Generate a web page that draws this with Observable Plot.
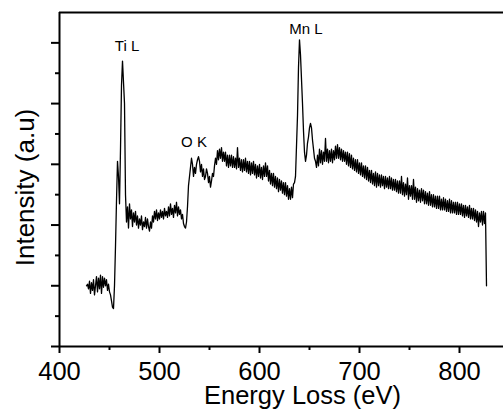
<!DOCTYPE html>
<html>
<head>
<meta charset="utf-8">
<script src="https://cdn.jsdelivr.net/npm/d3@7"></script>
<script src="https://cdn.jsdelivr.net/npm/@observablehq/plot@0.6"></script>
<style>
  html, body { margin: 0; padding: 0; background: #fff; overflow: hidden; }
  #chart { width: 503px; height: 412px; }
</style>
</head>
<body>
<div id="chart"></div>
<script>
// Energy grid (eV) of the spectrum: 1 eV steps starting at 427
const energyStart = 427;
// Intensity (a.u.), one value per eV (427 ... 827)
const intensity = [
  2.0, 2.05, 1.9, 2.15, 1.75, 2.1, 1.85, 2.2, 1.7, 2.0,
  2.3, 1.8, 2.25, 1.9, 2.35, 1.75, 2.3, 1.95, 2.25, 2.0,
  2.2, 1.85, 2.05, 1.8, 1.7, 1.5, 1.3, 1.25, 2.0, 3.3,
  4.8, 6.1, 5.6, 4.7, 6.5, 8.6, 9.4, 8.7, 8.0, 5.0,
  4.1, 4.6, 3.9, 4.7, 4.2, 4.5, 3.95, 4.4, 4.1, 4.45,
  4.0, 4.3, 3.9, 4.2, 4.0, 4.3, 3.85, 4.1, 3.95, 4.25,
  3.9, 4.2, 3.95, 3.8, 4.1, 3.9, 4.3, 4.1, 4.45, 4.2,
  4.5, 4.15, 4.4, 4.2, 4.5, 4.25, 4.45, 4.2, 4.55, 4.3,
  4.45, 4.25, 4.6, 4.3, 4.7, 4.35, 4.55, 4.25, 4.65, 4.4,
  4.75, 4.3, 4.6, 4.35, 4.5, 4.2, 4.35, 4.05, 3.95, 3.9,
  4.1, 4.6, 5.3, 5.6, 5.9, 6.2, 6.0, 5.6, 5.9, 5.7,
  6.0, 6.15, 6.25, 6.1, 5.75, 6.0, 5.6, 5.85, 5.5, 5.6,
  5.85, 5.7, 5.4, 5.6, 5.25, 5.45, 5.7, 5.6, 5.95, 6.2,
  6.0, 6.45, 6.15, 6.5, 6.2, 6.55, 6.1, 6.4, 6.1, 6.4,
  5.95, 6.3, 5.9, 6.3, 5.95, 6.3, 5.9, 6.25, 5.9, 6.2,
  5.85, 6.55, 5.9, 6.2, 5.8, 6.15, 5.75, 6.15, 5.8, 6.2,
  5.75, 6.1, 5.7, 6.1, 5.65, 6.05, 5.7, 6.1, 5.65, 6.0,
  5.55, 5.95, 5.6, 6.0, 5.55, 5.9, 5.5, 5.95, 5.6, 6.05,
  5.6, 5.95, 5.45, 5.8, 5.35, 5.7, 5.3, 5.7, 5.25, 5.6,
  5.2, 5.55, 5.1, 5.5, 5.15, 5.45, 5.05, 5.4, 5.0, 5.4,
  4.95, 5.3, 4.85, 5.2, 4.85, 5.25, 4.9, 5.35, 5.4, 5.6,
  6.6, 7.6, 9.2, 10.1, 9.6, 8.8, 8.0, 7.1, 6.4, 6.1,
  6.3, 6.7, 6.9, 7.2, 7.35, 7.2, 6.8, 6.5, 6.2, 6.1,
  5.9, 6.3, 5.95, 6.5, 6.05, 6.45, 6.0, 6.4, 6.1, 6.85,
  6.1, 6.5, 6.05, 6.45, 6.1, 6.5, 6.05, 6.45, 6.15, 6.6,
  6.2, 6.65, 6.2, 6.55, 6.15, 6.5, 6.1, 6.45, 6.1, 6.4,
  6.0, 6.4, 5.95, 6.35, 5.9, 6.3, 5.85, 6.2, 5.8, 6.15,
  5.75, 6.15, 5.7, 6.05, 5.65, 6.05, 5.6, 5.95, 5.55, 5.95,
  5.5, 5.9, 5.45, 5.8, 5.4, 5.8, 5.35, 5.7, 5.3, 5.75,
  5.25, 5.7, 5.3, 5.65, 5.25, 5.65, 5.3, 5.6, 5.2, 5.6,
  5.25, 5.55, 5.2, 5.6, 5.2, 5.55, 5.15, 5.5, 5.15, 5.5,
  5.1, 5.45, 5.05, 5.45, 5.05, 5.6, 5.0, 5.4, 4.95, 5.35,
  5.0, 5.55, 4.85, 5.3, 4.95, 5.3, 4.85, 5.5, 4.85, 5.25,
  4.75, 5.2, 4.8, 5.15, 4.75, 5.2, 4.8, 5.15, 4.7, 5.1,
  4.7, 5.05, 4.65, 5.1, 4.65, 5.0, 4.6, 5.0, 4.6, 4.95,
  4.55, 4.95, 4.55, 4.95, 4.5, 4.85, 4.5, 4.9, 4.5, 4.85,
  4.45, 4.8, 4.45, 4.85, 4.4, 4.8, 4.4, 4.75, 4.4, 4.75,
  4.35, 4.75, 4.35, 4.7, 4.35, 4.7, 4.3, 4.65, 4.25, 4.65,
  4.3, 4.6, 4.25, 4.65, 4.2, 4.55, 4.2, 4.55, 4.15, 4.5,
  4.1, 4.45, 3.95, 4.4, 4.1, 4.45, 4.0, 4.45, 4.05, 4.4,
  2.0
];
// Edge annotations
const edgeLabels = ["Ti L", "O K", "Mn L"];
const edgeEnergy = [467.5, 534.5, 646.5];
const edgeIntensity = [9.9, 6.72, 10.44];
// Axis ticks
const xMajorTicks = [400, 500, 600, 700, 800];
const xMinorTicks = [450, 550, 650, 750];
const yMajorTicks = [0, 2, 4, 6, 8, 10];
const yMinorTicks = [1, 3, 5, 7, 9];
const xLabel = "Energy Loss (eV)";
const yLabel = "Intensity (a.u)";

const spectrum = intensity.map((v, i) => ({energy: energyStart + i, value: v}));
const edges = edgeLabels.map((t, i) => ({label: t, energy: edgeEnergy[i], value: edgeIntensity[i]}));

const FONT = "'Liberation Sans', Arial, Helvetica, sans-serif";

const chart = Plot.plot({
  width: 503,
  height: 412,
  marginLeft: 59,
  marginRight: 0,
  marginTop: 12,
  marginBottom: 66,
  style: {fontFamily: FONT, color: "#000", background: "#fff", overflow: "hidden"},
  x: {domain: [400, 844]},
  y: {domain: [0, 11]},
  marks: [
    Plot.axisX({ticks: xMajorTicks, tickSize: 7, tickPadding: 8, tickFormat: d => String(d), fontSize: 25.5, strokeWidth: 2, label: null}),
    Plot.axisX({ticks: xMinorTicks, tickSize: 4, text: null, strokeWidth: 2, label: null}),
    Plot.axisY({ticks: yMajorTicks, tickSize: 8, text: null, strokeWidth: 2, label: null}),
    Plot.axisY({ticks: yMinorTicks, tickSize: 4, text: null, strokeWidth: 2, label: null}),
    Plot.ruleY([0, 11], {stroke: "#000", strokeWidth: 2}),
    Plot.ruleX([400], {stroke: "#000", strokeWidth: 2}),
    Plot.line(spectrum, {x: "energy", y: "value", stroke: "#000", strokeWidth: 1.3}),
    Plot.text(edges, {x: "energy", y: "value", text: "label", fontSize: 15, fill: "#000", lineAnchor: "middle"}),
    Plot.text([xLabel], {frameAnchor: "bottom", text: d => d, fontSize: 25.5, fill: "#000", textAnchor: "middle", lineAnchor: "middle", dx: 21, dy: 49}),
    Plot.text([yLabel], {frameAnchor: "left", text: d => d, fontSize: 26, fill: "#000", rotate: -90, textAnchor: "middle", lineAnchor: "middle", dx: -34, dy: 8})
  ]
});
document.getElementById("chart").appendChild(chart);
</script>
</body>
</html>
